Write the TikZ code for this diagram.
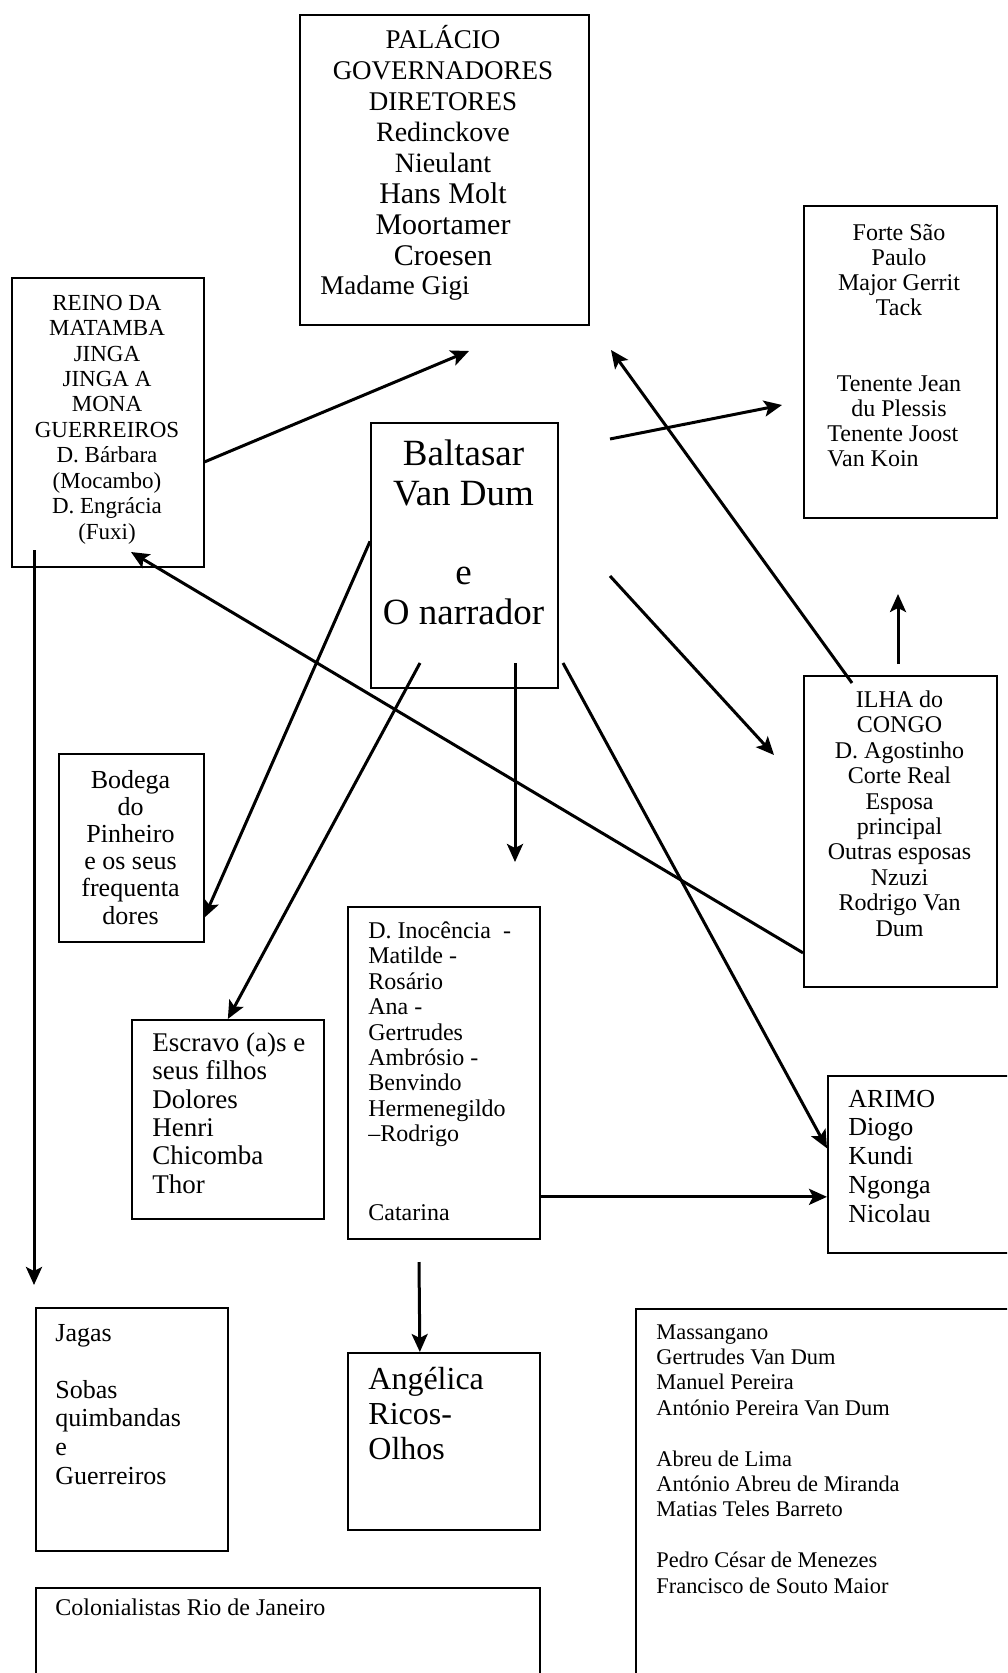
\documentclass[tikz,border=0pt]{standalone}
\usepackage{fontspec}
\setmainfont{Liberation Serif}
\usetikzlibrary{calc,arrows.meta}

\begin{document}
\begin{tikzpicture}[x=0.5pt,y=-0.5pt,>={Stealth[length=9pt,width=8pt,inset=2pt]},
	box/.style={draw,line width=0.85pt,inner sep=0pt,anchor=north west},
	txt/.style={inner sep=0pt,align=center,anchor=base},
	txtl/.style={inner sep=0pt,align=left,anchor=base west},
	arr/.style={->,line width=1.5pt}]
	\useasboundingbox (0,0) rectangle (1007,1673);
	\clip (0,0) rectangle (1007,1673);

	% boxes
	\node [box,minimum width=144.5pt,minimum height=155pt] at (299,14) (pal) {};
	\node [box,minimum width=96pt,minimum height=144.5pt] at (11,277) (reino) {};
	\node [box,minimum width=96.5pt,minimum height=156pt] at (803,205) (forte) {};
	\node [box,minimum width=93.5pt,minimum height=132.5pt] at (370,422) (balt) {};
	\node [box,minimum width=96.5pt,minimum height=155.5pt] at (803,675) (ilha) {};
	\node [box,minimum width=72.5pt,minimum height=94pt] at (58,753) (bod) {};
	\node [box,minimum width=96pt,minimum height=99.5pt] at (131,1019) (escr) {};
	\node [box,minimum width=96pt,minimum height=166pt] at (347,906) (fam) {};
	\node [box,minimum width=92.5pt,minimum height=88.5pt] at (827,1075) (arimo) {};
	\node [box,minimum width=96pt,minimum height=121.5pt] at (35,1307) (jagas) {};
	\node [box,minimum width=96pt,minimum height=88.5pt] at (347,1352) (angel) {};
	\node [box,minimum width=252pt,minimum height=100pt] at (35,1587) (colon) {};
	\node [box,minimum width=200pt,minimum height=200pt] at (635,1308) (mass) {};

	% texts (anchored at the baseline of their last line)
	\node [txt,font=\fontsize{13.5}{15.5}\selectfont] at (443,266) (palt) {PALÁCIO\\GOVERNADORES\\DIRETORES\\
		{\fontsize{14}{15}\selectfont Redinckove}\\{\fontsize{14}{15}\selectfont Nieulant}\\
		{\fontsize{15}{15}\selectfont Hans Molt}\\{\fontsize{15}{15}\selectfont Moortamer}\\
		{\fontsize{15}{15}\selectfont Croesen}};
	\node [txtl,font=\fontsize{13.5}{15}\selectfont] at (320,295) (palg) {Madame Gigi};
	\node [txt,font=\fontsize{11.5}{12.7}\selectfont] at (107,539) (reinot) {REINO DA\\MATAMBA\\JINGA\\JINGA A\\MONA\\
		GUERREIROS\\D. Bárbara\\(Mocambo)\\D. Engrácia\\(Fuxi)};
	\node [txt,font=\fontsize{12}{12.6}\selectfont] at (899,416.5) (fortet) {Forte São\\Paulo\\Major Gerrit\\Tack\\[25.2pt]
		Tenente Jean\\du Plessis};
	\node [txtl,font=\fontsize{12}{12.6}\selectfont] at (827,467) (forteb) {Tenente Joost\\Van Koin};
	\node [txt,font=\fontsize{18.5}{19.75}\selectfont] at (463.5,624) (baltt) {Baltasar\\Van Dum\\[19.75pt]e\\O narrador};
	\node [txt,font=\fontsize{12}{12.7}\selectfont] at (899.5,936) (ilhat) {ILHA do\\CONGO\\D. Agostinho\\Corte Real\\
		Esposa\\principal\\Outras esposas\\Nzuzi\\Rodrigo Van\\Dum};
	\node [txt,font=\fontsize{13}{13.6}\selectfont] at (130.5,924) (bodt) {Bodega\\do\\Pinheiro\\e os seus\\frequenta\\dores};
	\node [txtl,font=\fontsize{13.5}{14.15}\selectfont] at (152,1193) (escrt) {Escravo (a)s e\\seus filhos\\Dolores\\Henri\\
		Chicomba\\Thor};
	\node [txtl,font=\fontsize{12}{12.7}\selectfont] at (368,1220) (famt) {D. Inocência~~-\\Matilde -\\Rosário\\Ana -\\Gertrudes\\
		Ambrósio -\\Benvindo\\Hermenegildo\\–Rodrigo\\[26.5pt]Catarina};
	\node [txtl,font=\fontsize{13}{14.35}\selectfont] at (848,1222) (arimot) {ARIMO\\Diogo\\Kundi\\Ngonga\\Nicolau};
	\node [txtl,font=\fontsize{13}{14.3}\selectfont] at (55,1484) (jagt) {Jagas\\[14.3pt]Sobas\\quimbandas\\e\\Guerreiros};
	\node [txtl,font=\fontsize{16}{17.5}\selectfont] at (368,1459) (angt) {Angélica\\Ricos-\\Olhos};
	\node [txtl,font=\fontsize{12}{13}\selectfont] at (55,1615) (colt) {Colonialistas Rio de Janeiro};
	\node [txtl,font=\fontsize{11.2}{12.7}\selectfont] at (656,1593) (masst) {Massangano\\Gertrudes Van Dum\\Manuel Pereira\\
		António Pereira Van Dum\\[12.7pt]Abreu de Lima\\António Abreu de Miranda\\Matias Teles Barreto\\[12.7pt]
		Pedro César de Menezes\\Francisco de Souto Maior};

	% free arrow ends
	\coordinate (t1) at (469,351);
	\coordinate (s2) at (610,439);
	\coordinate (t2) at (782,405);
	\coordinate (s3) at (852,683);
	\coordinate (t3) at (611,350);
	\coordinate (s4) at (898,664);
	\coordinate (t4) at (898,594);
	\coordinate (s5) at (610,576);
	\coordinate (t5) at (774,755);
	\coordinate (t6) at (131,552);
	\coordinate (s7) at (34,550);
	\coordinate (t7) at (34,1285);
	\coordinate (t8) at (204,918);
	\coordinate (s9) at (420,663);
	\coordinate (s10) at (515,663);
	\coordinate (t10) at (515,862);
	\coordinate (s11) at (563,663);
	\coordinate (s13) at (419,1262);

	\path[arr]
	($(reino.east)+(0,39.5)$) edge (t1)
	(s2) edge (t2)
	(s3) edge (t3)
	(s4) edge (t4)
	(s5) edge (t5)
	($(ilha.west)+(0,121.5)$) edge (t6)
	(s7) edge (t7)
	($(balt.west)+(0,-14)$) edge (t8)
	(s9) edge (escr.north)
	(s10) edge (t10)
	(s11) edge ($(arimo.west)+(0,-16)$)
	($(fam.east)+(0,124)$) edge ($(arimo.west)+(0,32.5)$)
	(s13) edge ($(angel.north)+(-24,0)$);
\end{tikzpicture}
\end{document}
